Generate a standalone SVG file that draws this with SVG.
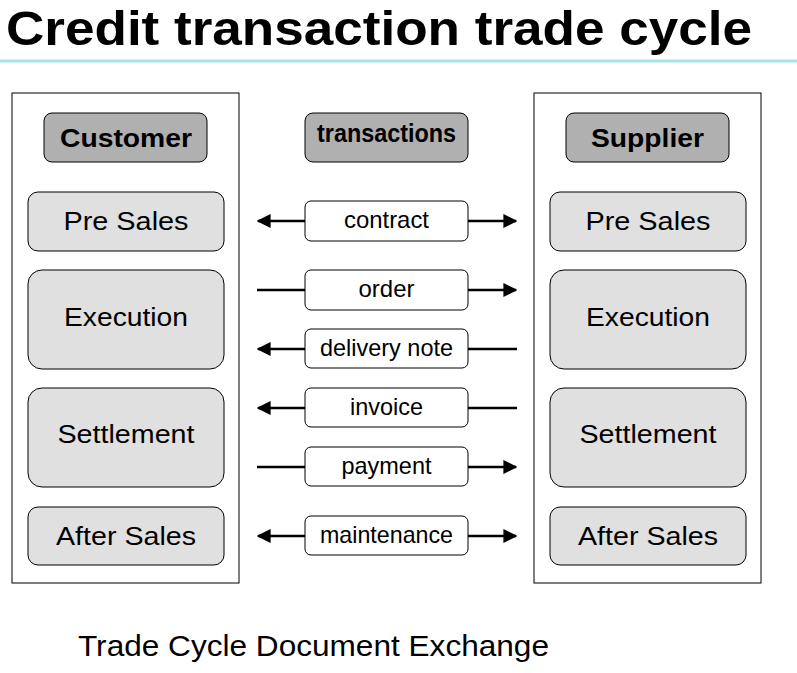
<svg xmlns="http://www.w3.org/2000/svg" width="797" height="673" viewBox="0 0 797 673">
<style>
text{font-family:"Liberation Sans",Arial,sans-serif;text-anchor:middle;fill:#000}
.panel{fill:#fff;stroke:#000;stroke-width:1}
.hdr{fill:#b0b0b0;stroke:#000;stroke-width:1}
.ph{fill:#e0e0e0;stroke:#000;stroke-width:1}
.lb{fill:#fff;stroke:#000;stroke-width:1}
.b{font-weight:bold;font-size:26px}
.t{font-size:26px}
.s{font-size:24px}
.c line{stroke:#000;stroke-width:2.5}
</style>
<defs>
<marker id="a" viewBox="0 0 10 10" refX="9" refY="5" markerWidth="14" markerHeight="14" markerUnits="userSpaceOnUse" orient="auto-start-reverse"><path d="M0,0L10,5L0,10z" fill="#000"/></marker>
</defs>
<rect width="797" height="673" fill="#fff"/>
<text x="6" y="45" font-weight="bold" font-size="48" style="text-anchor:start" textLength="746" lengthAdjust="spacingAndGlyphs">Credit transaction trade cycle</text>
<line x1="0" y1="61" x2="797" y2="61" stroke="#a6e4ec" stroke-width="3"/>
<g id="customer">
<rect class="panel" x="12" y="93" width="227" height="490"/>
<rect class="hdr" x="44" y="113" width="163" height="49" rx="8"/><text class="b" x="126" y="147" textLength="132" lengthAdjust="spacingAndGlyphs">Customer</text>
<rect class="ph" x="28" y="192" width="196" height="59" rx="10"/><text class="t" x="126" y="230" textLength="125" lengthAdjust="spacingAndGlyphs">Pre Sales</text>
<rect class="ph" x="28" y="270" width="196" height="99" rx="14"/><text class="t" x="126" y="326" textLength="124" lengthAdjust="spacingAndGlyphs">Execution</text>
<rect class="ph" x="28" y="388" width="196" height="99" rx="14"/><text class="t" x="126" y="443" textLength="137" lengthAdjust="spacingAndGlyphs">Settlement</text>
<rect class="ph" x="28" y="507" width="196" height="58" rx="10"/><text class="t" x="126" y="545" textLength="140" lengthAdjust="spacingAndGlyphs">After Sales</text>
</g>
<g id="supplier">
<rect class="panel" x="534" y="93" width="227" height="490"/>
<rect class="hdr" x="566" y="113" width="163" height="49" rx="8"/><text class="b" x="647.5" y="147" textLength="113" lengthAdjust="spacingAndGlyphs">Supplier</text>
<rect class="ph" x="550" y="192" width="196" height="59" rx="10"/><text class="t" x="648" y="230" textLength="125" lengthAdjust="spacingAndGlyphs">Pre Sales</text>
<rect class="ph" x="550" y="270" width="196" height="99" rx="14"/><text class="t" x="648" y="326" textLength="124" lengthAdjust="spacingAndGlyphs">Execution</text>
<rect class="ph" x="550" y="388" width="196" height="99" rx="14"/><text class="t" x="648" y="443" textLength="137" lengthAdjust="spacingAndGlyphs">Settlement</text>
<rect class="ph" x="550" y="507" width="196" height="58" rx="10"/><text class="t" x="648" y="545" textLength="140" lengthAdjust="spacingAndGlyphs">After Sales</text>
</g>
<g id="transactions">
<rect class="hdr" x="305" y="113" width="163" height="49" rx="8"/><text class="b" x="386.5" y="142" font-size="24" textLength="139" lengthAdjust="spacingAndGlyphs">transactions</text>
</g>
<g id="connectors" class="c">
<line x1="305" y1="221" x2="258" y2="221" marker-end="url(#a)"/><line x1="468" y1="221" x2="516" y2="221" marker-end="url(#a)"/>
<line x1="257" y1="290" x2="305" y2="290"/><line x1="468" y1="290" x2="516" y2="290" marker-end="url(#a)"/>
<line x1="305" y1="349" x2="258" y2="349" marker-end="url(#a)"/><line x1="468" y1="349" x2="517" y2="349"/>
<line x1="305" y1="408" x2="258" y2="408" marker-end="url(#a)"/><line x1="468" y1="408" x2="517" y2="408"/>
<line x1="257" y1="467" x2="305" y2="467"/><line x1="468" y1="467" x2="516" y2="467" marker-end="url(#a)"/>
<line x1="305" y1="536" x2="258" y2="536" marker-end="url(#a)"/><line x1="468" y1="536" x2="516" y2="536" marker-end="url(#a)"/>
</g>
<g id="labels">
<rect class="lb" x="305" y="201" width="163" height="40" rx="6"/><text class="s" x="386.5" y="228" textLength="85" lengthAdjust="spacingAndGlyphs">contract</text>
<rect class="lb" x="305" y="270" width="163" height="40" rx="6"/><text class="s" x="386.5" y="297" textLength="56" lengthAdjust="spacingAndGlyphs">order</text>
<rect class="lb" x="305" y="329" width="163" height="39" rx="6"/><text class="s" x="386.5" y="356" textLength="133" lengthAdjust="spacingAndGlyphs">delivery note</text>
<rect class="lb" x="305" y="388" width="163" height="39" rx="6"/><text class="s" x="386.5" y="415" textLength="73" lengthAdjust="spacingAndGlyphs">invoice</text>
<rect class="lb" x="305" y="447" width="163" height="39" rx="6"/><text class="s" x="386.5" y="474" textLength="90" lengthAdjust="spacingAndGlyphs">payment</text>
<rect class="lb" x="305" y="516" width="163" height="39" rx="6"/><text class="s" x="386.5" y="543" textLength="133" lengthAdjust="spacingAndGlyphs">maintenance</text>
</g>
<text x="78" y="656" font-size="29" style="text-anchor:start" textLength="471" lengthAdjust="spacingAndGlyphs">Trade Cycle Document Exchange</text>
</svg>
